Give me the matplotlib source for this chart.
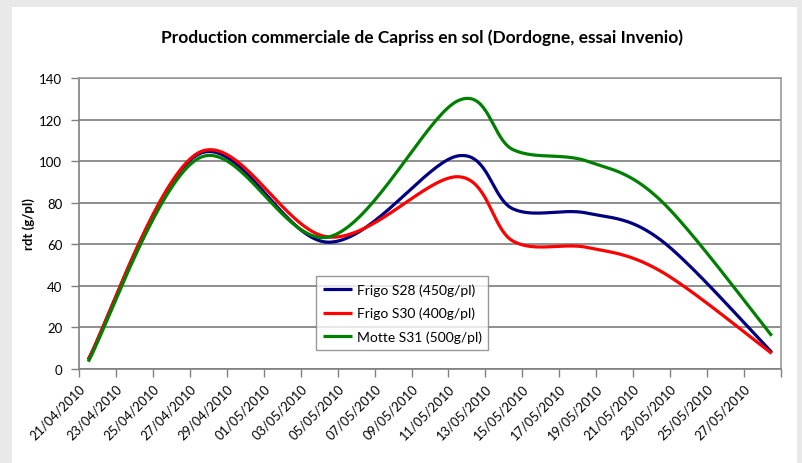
import numpy as np
import matplotlib
matplotlib.use("Agg")
import matplotlib.pyplot as plt
import matplotlib.dates as mdates
import matplotlib.transforms as mtransforms
from matplotlib.patches import Rectangle
from datetime import datetime, timedelta

plt.rcParams['font.family'] = ['Lato', 'DejaVu Sans']

# measurement dates (points sit in the middle of the day on Excel's date axis)
dates = ["21/04/2010", "27/04/2010", "04/05/2010", "11/05/2010",
         "14/05/2010", "18/05/2010", "22/05/2010", "28/05/2010"]

# rdt (g/pl) per series
frigo_s28 = [4.5, 103.5, 61, 102.5, 77, 75, 62, 8]
frigo_s30 = [4.5, 104.2, 63.5, 92.5, 61.5, 58.5, 47, 7.5]
motte_s31 = [3.5, 101.5, 63.5, 129, 105.5, 100, 81, 16]

labels = ["Frigo S28 (450g/pl)", "Frigo S30 (400g/pl)", "Motte S31 (500g/pl)"]
colors = ["#000080", "#ff0000", "#008000"]

title = "Production commerciale de Capriss en sol (Dordogne, essai Invenio)"
ylabel = "rdt (g/pl)"


def excel_smooth(x, y, n=40):
    # Excel style smoothed line: cubic Bezier, control points at 1/6 of the neighbour chord
    p = np.column_stack([x, y])
    pts = np.vstack([p[0], p, p[-1]])
    out = []
    t = np.linspace(0, 1, n)[:, None]
    for i in range(1, len(pts) - 2):
        p0, p1 = pts[i], pts[i + 1]
        c1 = p0 + (pts[i + 1] - pts[i - 1]) / 6.0
        c2 = p1 - (pts[i + 2] - pts[i]) / 6.0
        seg = (1 - t) ** 3 * p0 + 3 * (1 - t) ** 2 * t * c1 + 3 * (1 - t) * t ** 2 * c2 + t ** 3 * p1
        out.append(seg if i == 1 else seg[1:])
    out = np.vstack(out)
    return out[:, 0], out[:, 1]


x = np.array([mdates.date2num(datetime.strptime(d, "%d/%m/%Y") + timedelta(hours=12)) for d in dates])

fig = plt.figure(figsize=(8.02, 4.64), dpi=100)
fig.patch.set_facecolor("#e9e9e9")
# white chart area of the screenshot
fig.patches.append(Rectangle((12 / 802, 0), (797 - 12) / 802, (464 - 8) / 464,
                             transform=fig.transFigure, facecolor="white", edgecolor="none", zorder=-10))

ax = fig.add_axes([79 / 802, (464 - 370) / 464, (781 - 79) / 802, (370 - 79) / 464])
ax.set_facecolor("white")

for ys, lab, col in zip([frigo_s28, frigo_s30, motte_s31], labels, colors):
    sx, sy = excel_smooth(x, np.array(ys, dtype=float))
    ax.plot(sx, sy, color=col, lw=2.3, label=lab, solid_capstyle="butt")

start = datetime(2010, 4, 21)
end = datetime(2010, 5, 29)
ax.set_xlim(mdates.date2num(start), mdates.date2num(end))
ax.set_ylim(0, 140)
ax.set_yticks(range(0, 141, 20))
ticks = [start + timedelta(days=2 * i) for i in range(20)]
ax.set_xticks([mdates.date2num(t) for t in ticks])
ax.set_xticklabels([t.strftime("%d/%m/%Y") for t in ticks[:-1]] + [""],
                   rotation=45, ha="right", va="top", rotation_mode="anchor", fontsize=9.3)
offset = mtransforms.ScaledTranslation(10 / 100, -3 / 100, fig.dpi_scale_trans)
for lbl in ax.get_xticklabels():
    lbl.set_transform(lbl.get_transform() + offset)

ax.tick_params(axis="both", direction="out", length=6, width=1, color="#808080")
ax.tick_params(axis="y", pad=6, labelsize=9.5)
ax.grid(axis="y", color="#868686", lw=1.3)
ax.set_axisbelow(True)
for side in ["left", "bottom"]:
    ax.spines[side].set_color("#808080")
    ax.spines[side].set_linewidth(1.2)
for side in ["right", "top"]:
    ax.spines[side].set_color("#9a9a9a")
    ax.spines[side].set_linewidth(1.2)

ax.set_ylabel(ylabel, fontsize=9.5, fontweight="bold")
ax.yaxis.set_label_coords(-0.063, 0.5)
fig.text(422 / 802, 1 - 38 / 464, title, ha="center", va="center", fontsize=12.5, fontweight="bold")

leg = ax.legend(loc="lower left", bbox_to_anchor=(0.337, 0.065), fontsize=10, frameon=True,
                fancybox=False, edgecolor="#808080", handlelength=2.15, handletextpad=0.3,
                borderpad=0.5, labelspacing=0.8, borderaxespad=0)
leg.get_frame().set_linewidth(1.0)

fig.savefig("out.png", dpi=100, facecolor=fig.get_facecolor())
